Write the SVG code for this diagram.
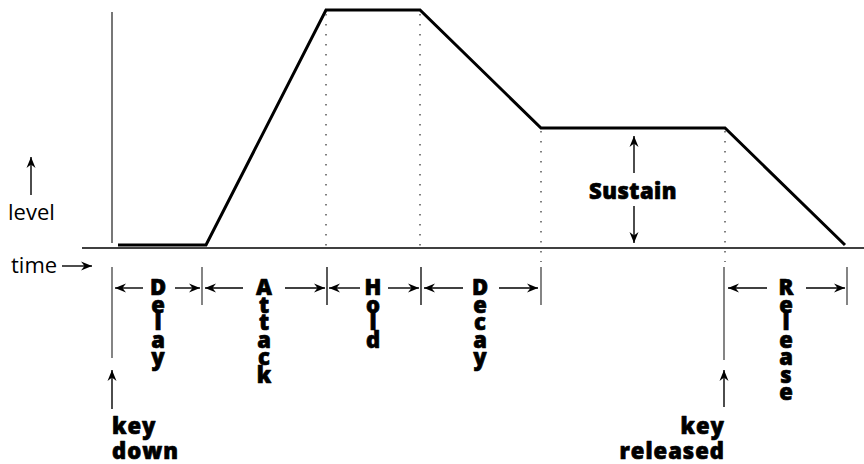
<svg xmlns="http://www.w3.org/2000/svg" width="864" height="464" viewBox="0 0 864 464">
<style>
.lbl{font-family:"Open Sans","DejaVu Sans",sans-serif;font-size:22px;fill:#000}
.b{font-family:"Open Sans","DejaVu Sans",sans-serif;font-weight:800;font-size:22px;fill:#000;stroke:#000;stroke-width:0.7;stroke-linejoin:round}
.v{text-anchor:middle}
.arr{stroke:#000;stroke-width:1.4;fill:none;marker-end:url(#ah)}
.tick{stroke:#000;stroke-width:1.3}
.gtick{stroke:#666;stroke-width:1.6}
.dot{stroke:#555;stroke-width:1.5;stroke-dasharray:1.5 8.5}
.env{stroke:#000;stroke-width:3;fill:none;stroke-linejoin:miter}
</style>
<defs>
<marker id="ah" markerUnits="userSpaceOnUse" markerWidth="12" markerHeight="10" viewBox="-11 -5 12 10" refX="0" refY="0" orient="auto">
<path d="M0,0 L-11,-4.5 L-7.5,0 L-11,4.5 Z" fill="#000"/>
</marker>
</defs>
<g id="axes">
<line x1="112" y1="12" x2="112" y2="243" stroke="#777" stroke-width="2"/>
<line x1="82" y1="248" x2="864" y2="248" stroke="#000" stroke-width="1.5"/>
</g>
<g id="envelope">
<polyline class="env" points="118,245 206,245 326,10 420,10 541,128 725,128 845,245"/>
</g>
<g id="guides">
<line class="dot" x1="326" y1="14" x2="326" y2="248"/>
<line class="dot" x1="420" y1="14" x2="420" y2="248"/>
<line class="dot" x1="541" y1="131" x2="541" y2="262"/>
<line class="dot" x1="725" y1="131" x2="725" y2="262"/>
</g>
<g id="ticks">
<line class="gtick" x1="112" y1="267" x2="112" y2="358"/>
<line class="gtick" x1="202" y1="267" x2="202" y2="305"/>
<line class="tick" x1="327" y1="267" x2="327" y2="305"/>
<line class="tick" x1="421" y1="267" x2="421" y2="305"/>
<line class="gtick" x1="541" y1="267" x2="541" y2="305"/>
<line class="gtick" x1="724" y1="267" x2="724" y2="360"/>
<line class="gtick" x1="847" y1="267" x2="847" y2="305"/>
</g>
<g id="connectors">
<line class="arr" x1="31" y1="195" x2="31" y2="157"/>
<line class="arr" x1="62" y1="266" x2="92" y2="266"/>
<line class="arr" x1="143" y1="288" x2="115" y2="288"/>
<line class="arr" x1="175" y1="288" x2="200" y2="288"/>
<line class="arr" x1="243" y1="288" x2="205" y2="288"/>
<line class="arr" x1="285" y1="288" x2="325" y2="288"/>
<line class="arr" x1="360" y1="288" x2="329" y2="288"/>
<line class="arr" x1="388" y1="288" x2="419" y2="288"/>
<line class="arr" x1="463" y1="288" x2="424" y2="288"/>
<line class="arr" x1="499" y1="288" x2="538" y2="288"/>
<line class="arr" x1="767" y1="288" x2="728" y2="288"/>
<line class="arr" x1="806" y1="288" x2="845" y2="288"/>
<line class="arr" x1="634" y1="173" x2="634" y2="136"/>
<line class="arr" x1="634" y1="206" x2="634" y2="243"/>
<line class="arr" x1="112" y1="409" x2="112" y2="370"/>
<line class="arr" x1="724" y1="407" x2="724" y2="370"/>
</g>
<g id="label-level"><text class="lbl" x="8" y="220">level</text></g>
<g id="label-time"><text class="lbl" x="11" y="273">time</text></g>
<g id="label-sustain"><text class="b v" x="633" y="199" letter-spacing="0.5">Sustain</text></g>
<g id="label-delay"><text class="b v" y="295"><tspan x="158">D</tspan><tspan x="158" dy="17.5">e</tspan><tspan x="158" dy="17.5">l</tspan><tspan x="158" dy="17.5">a</tspan><tspan x="158" dy="17.5">y</tspan></text></g>
<g id="label-attack"><text class="b v" y="295"><tspan x="264">A</tspan><tspan x="264" dy="17.5">t</tspan><tspan x="264" dy="17.5">t</tspan><tspan x="264" dy="17.5">a</tspan><tspan x="264" dy="17.5">c</tspan><tspan x="264" dy="17.5">k</tspan></text></g>
<g id="label-hold"><text class="b v" y="295"><tspan x="373">H</tspan><tspan x="373" dy="17.5">o</tspan><tspan x="373" dy="17.5">l</tspan><tspan x="373" dy="17.5">d</tspan></text></g>
<g id="label-decay"><text class="b v" y="295"><tspan x="480">D</tspan><tspan x="480" dy="17.5">e</tspan><tspan x="480" dy="17.5">c</tspan><tspan x="480" dy="17.5">a</tspan><tspan x="480" dy="17.5">y</tspan></text></g>
<g id="label-release"><text class="b v" y="295"><tspan x="786">R</tspan><tspan x="786" dy="17.5">e</tspan><tspan x="786" dy="17.5">l</tspan><tspan x="786" dy="17.5">e</tspan><tspan x="786" dy="17.5">a</tspan><tspan x="786" dy="17.5">s</tspan><tspan x="786" dy="17.5">e</tspan></text></g>
<g id="label-keydown"><text class="b" x="112" y="434" letter-spacing="1">key<tspan x="112" dy="25">down</tspan></text></g>
<g id="label-keyreleased"><text class="b" x="725" y="434" text-anchor="end" letter-spacing="1">key<tspan x="725" dy="25">released</tspan></text></g>
</svg>
